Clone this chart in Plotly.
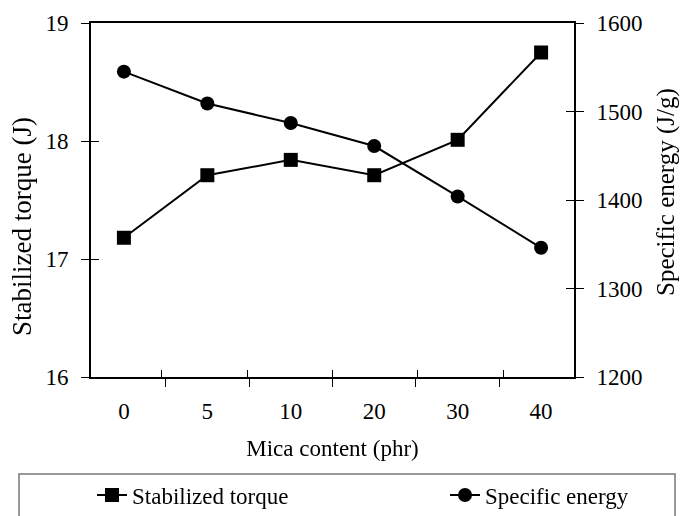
import plotly.graph_objects as go

categories = ["0", "5", "10", "20", "30", "40"]
torque = [17.18, 17.71, 17.84, 17.71, 18.01, 18.75]
energy = [1545, 1509, 1487, 1461, 1404, 1346]

left_ticks = [16, 17, 18, 19]
right_ticks = [1200, 1300, 1400, 1500, 1600]

FONT = "Liberation Serif"
FS = 23
W, H = 683, 516
L, R, T, B = 91, 109, 23, 139
PW, PH = W - L - R, H - T - B

fig = go.Figure()
fig.add_trace(go.Scatter(
    x=categories, y=torque, name="Stabilized torque", mode="lines+markers",
    line=dict(color="black", width=2),
    marker=dict(symbol="square", size=14, color="black"),
    xaxis="x", yaxis="y", legend="legend"))
fig.add_trace(go.Scatter(
    x=categories, y=energy, name="Specific energy", mode="lines+markers",
    line=dict(color="black", width=2),
    marker=dict(symbol="circle", size=14, color="black"),
    xaxis="x", yaxis="y2", legend="legend2"))
# invisible helpers so inside-tick axes are drawn (ticks cross the axis lines)
fig.add_trace(go.Scatter(x=categories, y=torque, mode="markers", opacity=0,
                         showlegend=False, hoverinfo="skip", xaxis="x2", yaxis="y3"))
fig.add_trace(go.Scatter(x=categories, y=energy, mode="markers", opacity=0,
                         showlegend=False, hoverinfo="skip", xaxis="x", yaxis="y4"))

axis_common = dict(showgrid=False, zeroline=False, tickcolor="black", tickwidth=1)
legend_common = dict(orientation="h", xref="container", yref="container",
                     y=1 - 495 / H, xanchor="left", yanchor="middle",
                     bgcolor="rgba(0,0,0,0)", borderwidth=0,
                     font=dict(family=FONT, size=FS))

fig.update_layout(
    width=W, height=H,
    margin=dict(l=L, r=R, t=T, b=B, autoexpand=False),
    paper_bgcolor="white", plot_bgcolor="white",
    font=dict(family=FONT, size=FS, color="black"),
    showlegend=True,
    xaxis=dict(type="category", categoryorder="array", categoryarray=categories,
               tickson="boundaries", ticks="outside", ticklen=8, ticklabelstandoff=12,
               showline=True, linecolor="black", linewidth=2, mirror=True,
               title=dict(text="Mica content (phr)", standoff=17,
                          font=dict(family=FONT, size=FS)),
               **axis_common),
    xaxis2=dict(type="category", categoryorder="array", categoryarray=categories,
                overlaying="x", anchor="y", side="bottom",
                tickson="boundaries", ticks="inside", ticklen=7,
                showticklabels=False, showline=False, **axis_common),
    yaxis=dict(range=[16, 19], tickvals=left_ticks, ticks="outside", ticklen=8,
               ticklabelstandoff=8,
               showline=True, linecolor="black", linewidth=2, **axis_common),
    yaxis2=dict(range=[1200, 1600], tickvals=right_ticks, overlaying="y", side="right",
                ticks="outside", ticklen=8, ticklabelstandoff=8,
                showline=True, linecolor="black", linewidth=2, **axis_common),
    yaxis3=dict(range=[16, 19], tickvals=left_ticks, overlaying="y", side="left",
                anchor="x2", ticks="inside", ticklen=8, showticklabels=False,
                showline=False, **axis_common),
    yaxis4=dict(range=[1200, 1600], tickvals=right_ticks, overlaying="y", side="right",
                ticks="inside", ticklen=8, showticklabels=False, showline=False,
                **axis_common),
    legend=dict(x=92 / W, **legend_common),
    legend2=dict(x=445 / W, **legend_common),
    annotations=[
        dict(text="Stabilized torque (J)", textangle=-90,
             xref="paper", yref="paper",
             x=(22 - L) / PW, y=(H - B - 227) / PH,
             xanchor="center", yanchor="middle", showarrow=False,
             font=dict(family=FONT, size=27)),
        dict(text="Specific energy (J/g)", textangle=-90,
             xref="paper", yref="paper",
             x=(666 - L) / PW, y=(H - B - 192) / PH,
             xanchor="center", yanchor="middle", showarrow=False,
             font=dict(family=FONT, size=25)),
    ],
    shapes=[dict(type="rect", xref="paper", yref="paper",
                 x0=(19 - L) / PW, x1=(675 - L) / PW,
                 y0=(H - B - 474) / PH, y1=(H - B - 540) / PH,
                 line=dict(color="#777777", width=1.5), fillcolor="rgba(0,0,0,0)",
                 layer="below")],
)

fig.write_html("out.html")
